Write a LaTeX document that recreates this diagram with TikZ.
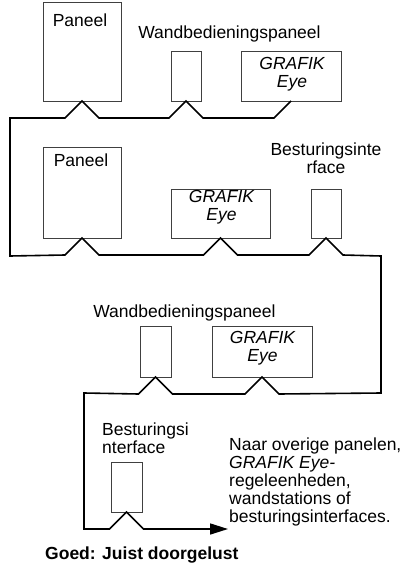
\documentclass[tikz,border=0pt]{standalone}
\usepackage{fontspec}
\setmainfont{Liberation Sans}
\usetikzlibrary{positioning}
\usetikzlibrary{arrows.meta}
\usetikzlibrary{calc}
\tikzstyle{device}=[rectangle,draw=black!75,line width=0.8pt,inner sep=0pt,outer sep=0pt]
\tikzstyle{wire} = [draw,line width=1.6pt,line join=miter]
\tikzstyle{txt} = [inner sep=0pt,font=\fontsize{17.5}{18}\selectfont]
\tikzstyle{grafik} = [txt,align=center,font=\fontsize{17.5}{18}\selectfont\itshape]

\begin{document}
\begin{tikzpicture}[x=1pt,y=-1pt]
\useasboundingbox (0,0) rectangle (409,564);

    % Draw the devices of the loop
    % First we draw the boxes
    \foreach \pos/\name/\w/\h in {{(82,51.5)/pan1/78/99}, {(186,76)/wp1/30/50}, {(291,76)/ge1/100/50},
        {(82,192.5)/pan2/78/91}, {(220.5,213.5)/ge2/99/49}, {(326,213.5)/bi2/30/49},
        {(155.5,351.5)/wp3/31/51}, {(262,351.5)/ge3/100/51}, {(126.5,487)/bi4/31/50}}
        \node[device,minimum width=\w pt,minimum height=\h pt] (\name) at \pos {};

    % Then the texts of one line
    \foreach \pos/\name/\label in {{(80,27)/tpan1/Paneel}, {(81,167)/tpan2/Paneel},
        {(229.5,39)/twp1/Wandbedieningspaneel}, {(184.5,317)/twp3/Wandbedieningspaneel}}
        \node[txt,anchor=base] (\name) at \pos {\label};

    \node[grafik,anchor=north] (tge1) at (292,57.2) {GRAFIK\\Eye};
    \node[grafik,anchor=north] (tge2) at (221.5,190.2) {GRAFIK\\Eye};
    \node[grafik,anchor=north] (tge3) at (262.5,331.2) {GRAFIK\\Eye};
    \node[txt,align=center,anchor=north] (tbi2) at (326,142.2) {Besturingsinte\\rface};
    \node[txt,align=left,anchor=north west] (tbi4) at (102,422.2) {Besturingsi\\nterface};

    % Corners of the wire
    \coordinate (c1) at (10,118);
    \coordinate (c2) at (10,256);
    \coordinate (c3) at (381,256);
    \coordinate (c4) at (381,393);
    \coordinate (c5) at (84,393);
    \coordinate (c6) at (84,529);
    \coordinate (tip) at (228,529);

    % Connect the devices with the wire
    \path[wire,-{Triangle[length=18pt,width=11pt]}] (ge1.south) -- ++(-17,17)
        -- ($(wp1.south)+(17,17)$) -- (wp1.south) -- ++(-17,17)
        -- ($(pan1.south)+(17,17)$) -- (pan1.south) -- ++(-17,17)
        -- (c1) -- (c2)
        -- ($(pan2.south)+(-17,17)$) -- (pan2.south) -- ++(17,17)
        -- ($(ge2.south)+(-17,17)$) -- (ge2.south) -- ++(17,17)
        -- ($(bi2.south)+(-17,17)$) -- (bi2.south) -- ++(17,17)
        -- (c3) -- (c4)
        -- ($(ge3.south)+(17,17)$) -- (ge3.south) -- ++(-17,17)
        -- ($(wp3.south)+(17,17)$) -- (wp3.south) -- ++(-17,17)
        -- (c5) -- (c6)
        -- ($(bi4.south)+(-17,17)$) -- (bi4.south) -- ++(17,17)
        -- (tip);

\node[txt,align=left,anchor=north west] (naar) at (229,437.2) {Naar overige panelen,\\\textit{GRAFIK Eye-}\\regeleenheden,\\wandstations of\\besturingsinterfaces.};
\node[txt,anchor=base west,font=\fontsize{17.5}{18}\selectfont\bfseries] (goed) at (45,559) {Goed: Juist doorgelust};

\end{tikzpicture}
\end{document}
